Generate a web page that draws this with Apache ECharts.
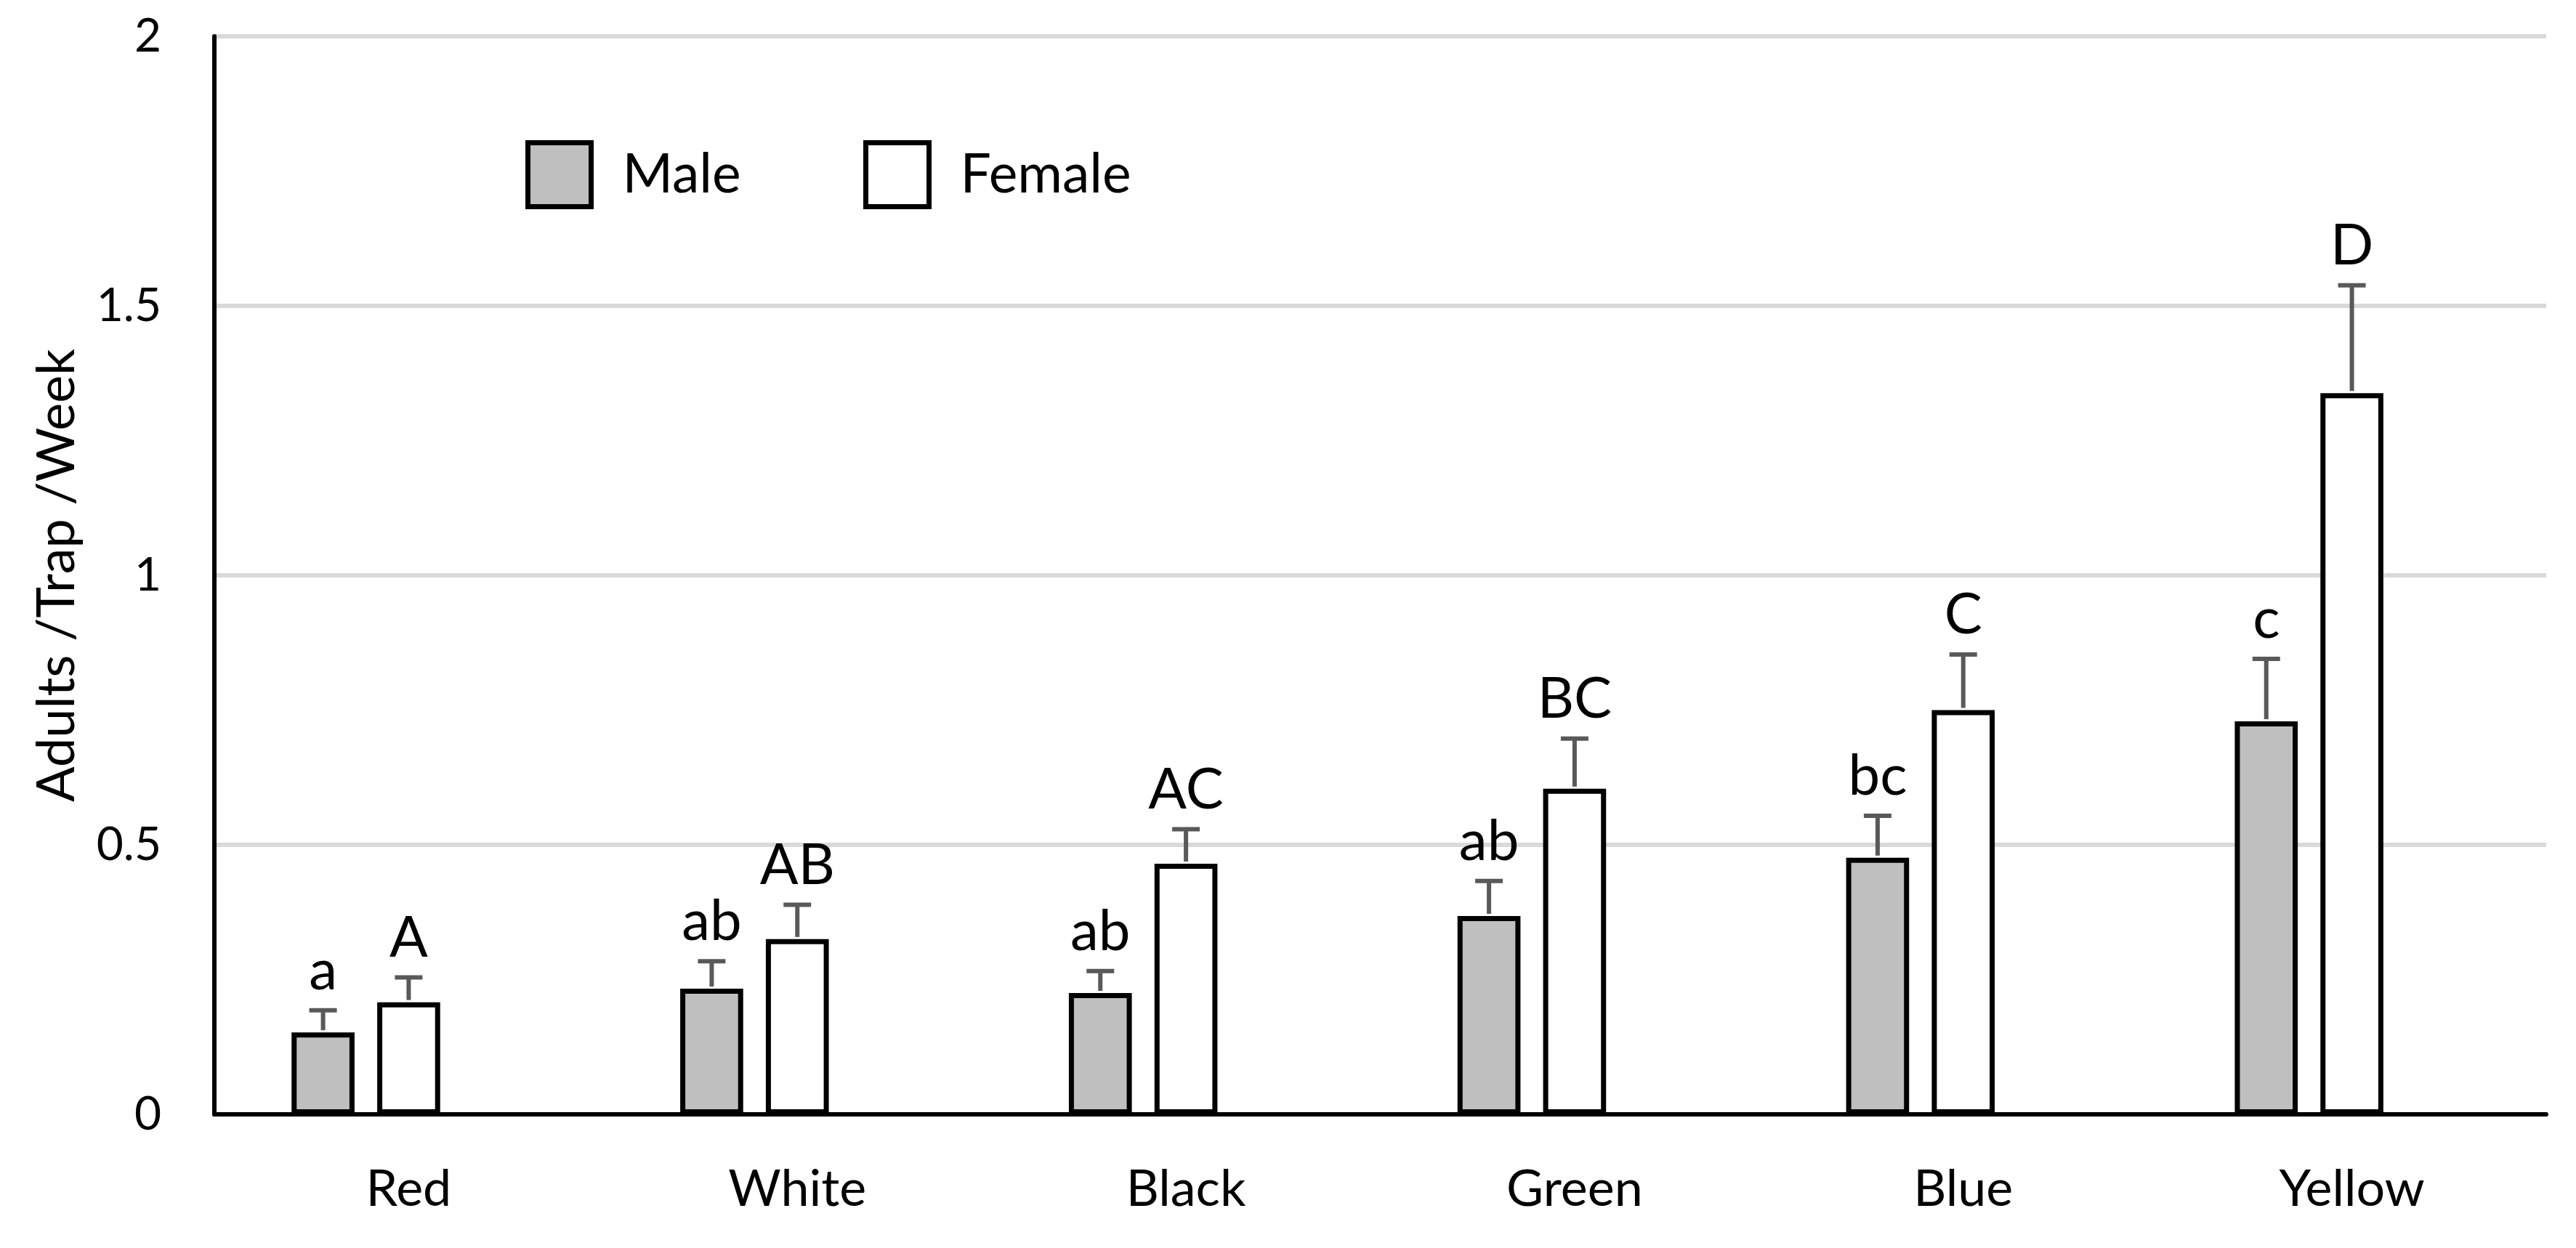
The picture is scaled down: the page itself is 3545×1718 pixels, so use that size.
<!DOCTYPE html>
<html>
<head>
<meta charset="utf-8">
<script src="https://cdn.jsdelivr.net/npm/echarts@6/dist/echarts.min.js"></script>
<style>html,body{margin:0;padding:0;background:#fff;}#c{width:3545px;height:1718px;}</style>
</head>
<body>
<div id="c"></div>
<script>
const categories = ['Red', 'White', 'Black', 'Green', 'Blue', 'Yellow'];
const maleMean = [0.152, 0.233, 0.225, 0.368, 0.476, 0.729];
const maleErr = [0.045, 0.055, 0.045, 0.069, 0.082, 0.120];
const femaleMean = [0.208, 0.325, 0.465, 0.604, 0.750, 1.338];
const femaleErr = [0.050, 0.068, 0.068, 0.097, 0.107, 0.204];
const maleLetters = ['a', 'ab', 'ab', 'ab', 'bc', 'c'];
const femaleLetters = ['A', 'AB', 'AC', 'BC', 'C', 'D'];
const yTicks = [0, 0.5, 1, 1.5, 2];

const FONT = 'Lato';
const BAR_W_RATIO = 0.162;
const GAP_RATIO = 0.36;
const BORDER = 7;

function errRender(sign, letters) {
  return function (params, api) {
    const idx = api.value(0), v = api.value(1), e = api.value(2);
    const band = api.size([1, 0])[0];
    const barW = band * BAR_W_RATIO;
    const dx = sign * barW * (1 + GAP_RATIO);
    const base = api.coord([idx, v]);
    const top = api.coord([idx, v + e]);
    const x = base[0] + dx;
    const capHalf = 19;
    const capY = top[1] + 3;
    return {
      type: 'group',
      children: [
        { type: 'line', shape: { x1: x, y1: base[1] - 3, x2: x, y2: capY }, style: { stroke: '#595959', lineWidth: 6 } },
        { type: 'line', shape: { x1: x - capHalf, y1: capY, x2: x + capHalf, y2: capY }, style: { stroke: '#595959', lineWidth: 6 } },
        { type: 'text', x: x, y: top[1] - 27 + 15,
          style: { text: letters[params.dataIndex], fill: '#000', font: '78px ' + FONT, textAlign: 'center', textVerticalAlign: 'bottom' } }
      ]
    };
  };
}

const chart = echarts.init(document.getElementById('c'));
chart.setOption({
  animation: false,
  backgroundColor: '#fff',
  grid: { left: 295, right: 41, top: 50, bottom: 184, containLabel: false },
  legend: [
    { data: ['Male'], left: 718, top: 188, itemWidth: 87, itemHeight: 88, icon: 'rect',
      itemStyle: { borderWidth: BORDER, borderColor: '#000' },
      textStyle: { fontFamily: FONT, fontSize: 75, color: '#000', padding: [0, 0, 0, 38] } },
    { data: ['Female'], left: 1183, top: 188, itemWidth: 87, itemHeight: 88, icon: 'rect',
      itemStyle: { borderWidth: BORDER, borderColor: '#000' },
      textStyle: { fontFamily: FONT, fontSize: 75, color: '#000', padding: [0, 0, 0, 38] } }
  ],
  xAxis: {
    type: 'category',
    data: categories,
    axisLine: { show: true, lineStyle: { color: '#000', width: 6 } },
    axisTick: { show: false },
    axisLabel: { fontFamily: FONT, fontSize: 70, color: '#000', margin: 68 },
    splitLine: { show: false }
  },
  yAxis: {
    type: 'value',
    min: 0, max: 2, interval: 0.5,
    name: 'Adults /Trap /Week',
    nameLocation: 'middle',
    nameGap: 180,
    nameTextStyle: { fontFamily: FONT, fontSize: 72, color: '#000' },
    axisLine: { show: true, lineStyle: { color: '#000', width: 6 } },
    axisTick: { show: false },
    axisLabel: { fontFamily: FONT, fontSize: 64, color: '#000', margin: 73,
      formatter: function (v) { return yTicks.indexOf(v) >= 0 ? String(v) : ''; } },
    splitLine: { show: true, lineStyle: { color: '#d9d9d9', width: 6 } }
  },
  series: [
    { name: 'Male', type: 'bar', data: maleMean, barWidth: (BAR_W_RATIO * 100) + '%', barGap: (GAP_RATIO * 100) + '%',
      itemStyle: { color: '#bfbfbf', borderColor: '#000', borderWidth: BORDER } },
    { name: 'Female', type: 'bar', data: femaleMean, barWidth: (BAR_W_RATIO * 100) + '%', barGap: (GAP_RATIO * 100) + '%',
      itemStyle: { color: '#ffffff', borderColor: '#000', borderWidth: BORDER } },
    { name: 'spacer', type: 'bar', data: categories.map(function () { return null; }), barWidth: (BAR_W_RATIO * 100) + '%', barGap: (GAP_RATIO * 100) + '%',
      itemStyle: { color: 'transparent' } },
    { type: 'custom', name: 'MaleErr', clip: false, z: 5,
      data: categories.map(function (c, i) { return [i, maleMean[i], maleErr[i]]; }),
      encode: { x: 0, y: 1 },
      renderItem: errRender(-1, maleLetters) },
    { type: 'custom', name: 'FemaleErr', clip: false, z: 5,
      data: categories.map(function (c, i) { return [i, femaleMean[i], femaleErr[i]]; }),
      encode: { x: 0, y: 1 },
      renderItem: errRender(0, femaleLetters) }
  ]
});
</script>
</body>
</html>
